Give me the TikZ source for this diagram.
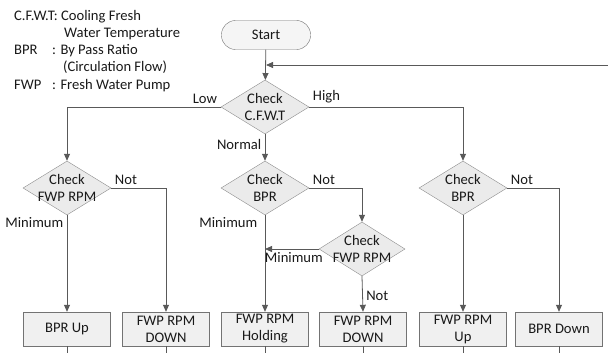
\documentclass[tikz,border=0pt]{standalone}
\usepackage{fontspec}
\setmainfont{Carlito}
\usetikzlibrary{positioning}
\usetikzlibrary{shapes.geometric}
\usetikzlibrary{arrows.meta}

\begin{document}
\begin{tikzpicture}[
    x=1pt, y=-1pt,
    every node/.style={font=\fontsize{14.6}{17}\selectfont, text=black!90},
    terminal/.style={rectangle, rounded corners=14pt, draw=black!55, fill=black!4, minimum width=89pt, minimum height=29pt},
    decision/.style={diamond, draw=black!45, fill=black!8, minimum width=88pt, minimum height=54pt, inner sep=0pt},
    dtext/.style={align=center, inner sep=0pt},
    process/.style={rectangle, draw=black!55, fill=black!6, minimum width=87pt, minimum height=34pt, align=center, inner sep=1pt},
    legend/.style={anchor=base west, inner sep=0pt},
    flow/.style={draw=black!65, line width=0.8pt, -{Triangle[length=7pt, width=6pt]}},
    stub/.style={draw=black!65, line width=0.8pt}
]
\useasboundingbox (0,0) rectangle (608,353);

% legend
\node[legend] (l1a) at (14,21) {C.F.W.T: Cooling Fresh};
\node[legend] (l1b) at (64,38) {Water Temperature};
\node[legend] (l2a) at (14,55) {BPR};
\node[legend] (l2b) at (52,55) {: By Pass Ratio};
\node[legend] (l2c) at (63,72) {(Circulation Flow)};
\node[legend] (l3a) at (14,89) {FWP};
\node[legend] (l3b) at (52,89) {: Fresh Water Pump};

% nodes
\node[terminal] (start) at (266,35) {Start};
\node[decision, label={[dtext]center:Check\\C.F.W.T}] (cfwt) at (265,107) {};
\node[decision, label={[dtext]center:Check\\FWP RPM}] (fwpL) at (67,188) {};
\node[decision, label={[dtext]center:Check\\BPR}] (bprM) at (265,188) {};
\node[decision, label={[dtext]center:Check\\BPR}] (bprR) at (463,188) {};
\node[decision, minimum width=86pt, label={[dtext]center:Check\\FWP RPM}] (fwpM) at (362,249) {};

\node[process] (b1) at (67,329) {BPR Up};
\node[process] (b2) at (166,329) {FWP RPM\\DOWN};
\node[process] (b3) at (265,329) {FWP RPM\\Holding};
\node[process] (b4) at (363,329) {FWP RPM\\DOWN};
\node[process] (b5) at (463,329) {FWP RPM\\Up};
\node[process] (b6) at (559,329) {BPR Down};

\coordinate (loopin) at (608,65);
\coordinate (bottom) at (0,353);

% connectors
\draw[flow] (start) -- (cfwt);
\draw[flow] (loopin) -- (loopin -| start);
\draw[flow] (cfwt.west) -| node[pos=0, above left] {Low} (fwpL.north);
\draw[flow] (cfwt.east) -| node[pos=0, above right] {High} (bprR.north);
\draw[flow] (cfwt.south) -- node[pos=0.4, left] {Normal} (bprM.north);

\draw[flow] (fwpL.east) -| node[pos=0, above right] {Not} (b2.north);
\draw[flow] (fwpL.south) -- node[pos=0.08, left] {Minimum} (b1.north);

\draw[flow] (bprM.east) -| node[pos=0, above right] {Not} (fwpM.north);
\draw[flow] (bprM.south) -- node[pos=0.08, left, xshift=-4pt] {Minimum} (b3.north);
\draw[flow] (fwpM.west) -- node[below, xshift=2pt] {Minimum} (fwpM.west -| bprM.south);
\draw[flow] (fwpM.south) -- node[pos=0.55, right] {Not} (b4.north);

\draw[flow] (bprR.east) -| node[pos=0, above right] {Not} (b6.north);
\draw[flow] (bprR.south) -- (b5.north);

\foreach \b in {b1,b2,b3,b4,b5,b6}
    \draw[stub] (\b.south) -- (\b.south |- bottom);

\end{tikzpicture}
\end{document}
